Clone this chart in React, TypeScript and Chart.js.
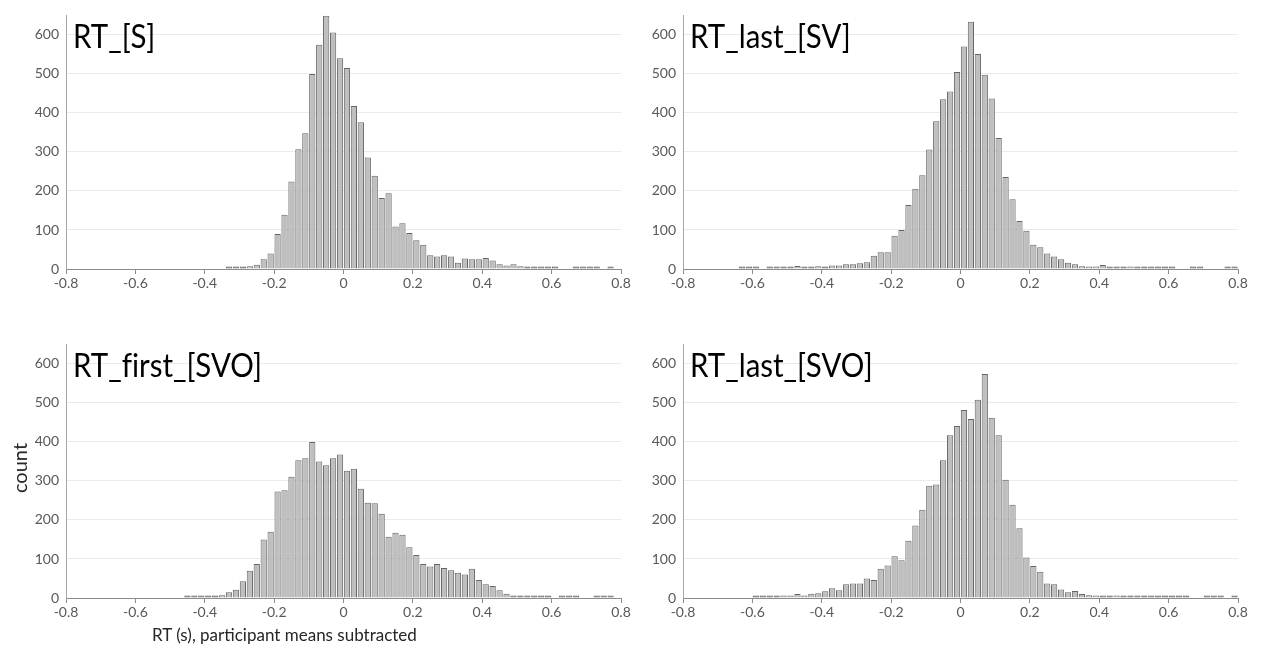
import React, { useEffect, useRef } from 'react';
import { Chart, registerables } from 'chart.js';

Chart.register(...registerables);

// Bin centres (s), bin width 0.02
const binCenters = [
  -0.79, -0.77, -0.75, -0.73, -0.71, -0.69, -0.67, -0.65, -0.63, -0.61,
  -0.59, -0.57, -0.55, -0.53, -0.51, -0.49, -0.47, -0.45, -0.43, -0.41,
  -0.39, -0.37, -0.35, -0.33, -0.31, -0.29, -0.27, -0.25, -0.23, -0.21,
  -0.19, -0.17, -0.15, -0.13, -0.11, -0.09, -0.07, -0.05, -0.03, -0.01,
  0.01, 0.03, 0.05, 0.07, 0.09, 0.11, 0.13, 0.15, 0.17, 0.19,
  0.21, 0.23, 0.25, 0.27, 0.29, 0.31, 0.33, 0.35, 0.37, 0.39,
  0.41, 0.43, 0.45, 0.47, 0.49, 0.51, 0.53, 0.55, 0.57, 0.59,
  0.61, 0.63, 0.65, 0.67, 0.69, 0.71, 0.73, 0.75, 0.77, 0.79,
];

const countsS = [
  0, 0, 0, 0, 0, 0, 0, 0, 0, 0,
  0, 0, 0, 0, 0, 0, 0, 0, 0, 0,
  0, 0, 0, 1, 2, 3, 7, 11, 25, 40,
  90, 139, 224, 307, 348, 500, 575, 649, 606, 540,
  515, 418, 376, 286, 239, 182, 194, 109, 117, 92,
  74, 62, 35, 32, 35, 32, 16, 27, 25, 25,
  28, 22, 12, 9, 12, 7, 1, 2, 1, 2,
  1, 0, 0, 1, 1, 2, 1, 0, 1, 0,
];

const countsLastSV = [
  0, 0, 0, 0, 0, 0, 0, 0, 1, 1,
  3, 0, 2, 2, 3, 1, 8, 2, 3, 7,
  3, 9, 9, 12, 12, 15, 17, 34, 43, 43,
  85, 100, 164, 206, 240, 306, 379, 435, 455, 505,
  570, 634, 551, 498, 437, 336, 236, 179, 123, 98,
  62, 56, 40, 32, 25, 16, 12, 7, 6, 6,
  10, 1, 2, 2, 5, 2, 1, 1, 2, 1,
  2, 0, 0, 1, 1, 0, 0, 0, 1, 3,
];

const countsFirstSVO = [
  0, 0, 0, 0, 0, 0, 0, 0, 0, 0,
  0, 0, 0, 0, 0, 0, 0, 1, 1, 1,
  2, 4, 7, 15, 21, 43, 70, 87, 150, 170,
  273, 276, 311, 353, 358, 400, 350, 340, 358, 368,
  326, 331, 280, 244, 243, 216, 157, 167, 162, 130,
  110, 87, 81, 87, 77, 71, 65, 60, 75, 46,
  35, 31, 20, 11, 2, 2, 2, 4, 2, 2,
  0, 2, 1, 1, 0, 0, 1, 2, 1, 0,
];

const countsLastSVO = [
  0, 0, 0, 0, 0, 0, 0, 0, 0, 0,
  4, 2, 2, 1, 5, 5, 10, 6, 11, 12,
  17, 25, 20, 35, 37, 37, 50, 46, 75, 83,
  107, 97, 147, 186, 226, 288, 291, 353, 417, 441,
  482, 459, 508, 574, 462, 417, 303, 239, 179, 104,
  82, 67, 37, 35, 22, 15, 18, 10, 7, 5,
  2, 2, 5, 2, 2, 2, 1, 2, 2, 1,
  1, 1, 1, 0, 0, 2, 1, 2, 0, 1,
];

const panelTitles = ['RT_[S]', 'RT_last_[SV]', 'RT_first_[SVO]', 'RT_last_[SVO]'];
const yAxisLabel = 'count';
const xAxisLabel = 'RT (s), participant means subtracted';

const FONT = 'Lato, "Open Sans", sans-serif';

const titlePlugin = {
  id: 'panelTitle',
  afterDraw(chart: any, _args: any, opts: any) {
    const { ctx, chartArea } = chart;
    ctx.save();
    ctx.font = `32px ${FONT}`;
    try {
      (ctx as any).letterSpacing = '0.01px';
    } catch (e) {}
    ctx.fillStyle = '#000000';
    ctx.textBaseline = 'alphabetic';
    ctx.textAlign = 'left';
    ctx.translate(chartArea.left + 7, chartArea.top + 32.5);
    ctx.scale(0.92, 1);
    ctx.fillText(opts.text, 0, 0);
    ctx.restore();
  },
};

const CW = 640;
const CH = 300;

function Panel({ left, top, title, values }: { left: number; top: number; title: string; values: number[] }) {
  const ref = useRef<HTMLCanvasElement>(null);
  useEffect(() => {
    if (!ref.current) return;
    const chart = new Chart(ref.current, {
      type: 'bar',
      data: {
        datasets: [
          {
            data: binCenters.map((x, i) => ({ x, y: values[i] === 0 ? null : values[i] })),
            backgroundColor: (c: any) => {
              const v = c.raw && c.raw.y;
              return v != null && v <= 4 ? '#6e6e6e' : '#bfbfbf';
            },
            borderColor: '#666666',
            borderWidth: 1,
            borderSkipped: 'start',
            barPercentage: 0.9,
            categoryPercentage: 1,
            minBarLength: 2.5,
          } as any,
        ],
      },
      options: {
        animation: false,
        responsive: false,
        maintainAspectRatio: false,
        events: [],
        layout: { padding: { top: 8, right: 19, left: 0, bottom: 0 } },
        plugins: {
          legend: { display: false },
          tooltip: { enabled: false },
          panelTitle: { text: title },
        } as any,
        scales: {
          x: {
            type: 'linear',
            min: -0.8,
            max: 0.8,
            offset: false,
            ticks: {
              stepSize: 0.2,
              includeBounds: false,
              autoSkip: false,
              maxRotation: 0,
              color: '#595959',
              font: { family: FONT, size: 14 },
              padding: 1,
            },
            grid: {
              offset: false,
              drawOnChartArea: false,
              drawTicks: true,
              tickLength: 5,
              color: '#8c8c8c',
            },
            border: { color: '#8c8c8c', width: 1 },
            afterFit: (s: any) => {
              s.height = 31;
            },
          } as any,
          y: {
            min: 0,
            max: 650,
            ticks: {
              stepSize: 100,
              includeBounds: false,
              color: '#595959',
              font: { family: FONT, size: 14 },
              padding: 7,
            },
            grid: { color: '#ebebeb', drawTicks: false },
            border: { color: '#a6a6a6', width: 1 },
            afterFit: (s: any) => {
              s.width = 66;
            },
          } as any,
        },
      },
      plugins: [titlePlugin as any],
    });
    return () => chart.destroy();
  }, []);
  return (
    <canvas
      ref={ref}
      width={CW}
      height={CH}
      style={{ position: 'absolute', left, top, width: CW, height: CH }}
    />
  );
}

export default function App() {
  return (
    <div>
      <Panel left={0} top={0} title={panelTitles[0]} values={countsS} />
      <Panel left={617} top={0} title={panelTitles[1]} values={countsLastSV} />
      <Panel left={0} top={329} title={panelTitles[2]} values={countsFirstSVO} />
      <Panel left={617} top={329} title={panelTitles[3]} values={countsLastSVO} />
      <div
        style={{
          position: 'absolute',
          left: 19,
          top: 468,
          transform: 'translate(-50%, -50%) rotate(-90deg)',
          fontFamily: FONT,
          fontSize: 20,
          color: '#262626',
          whiteSpace: 'nowrap',
          lineHeight: 1,
        }}
      >
        {yAxisLabel}
      </div>
      <div
        style={{
          position: 'absolute',
          left: 152,
          top: 626,
          fontFamily: FONT,
          fontSize: 17,
          color: '#262626',
          whiteSpace: 'nowrap',
          lineHeight: 1,
        }}
      >
        {xAxisLabel}
      </div>
    </div>
  );
}
